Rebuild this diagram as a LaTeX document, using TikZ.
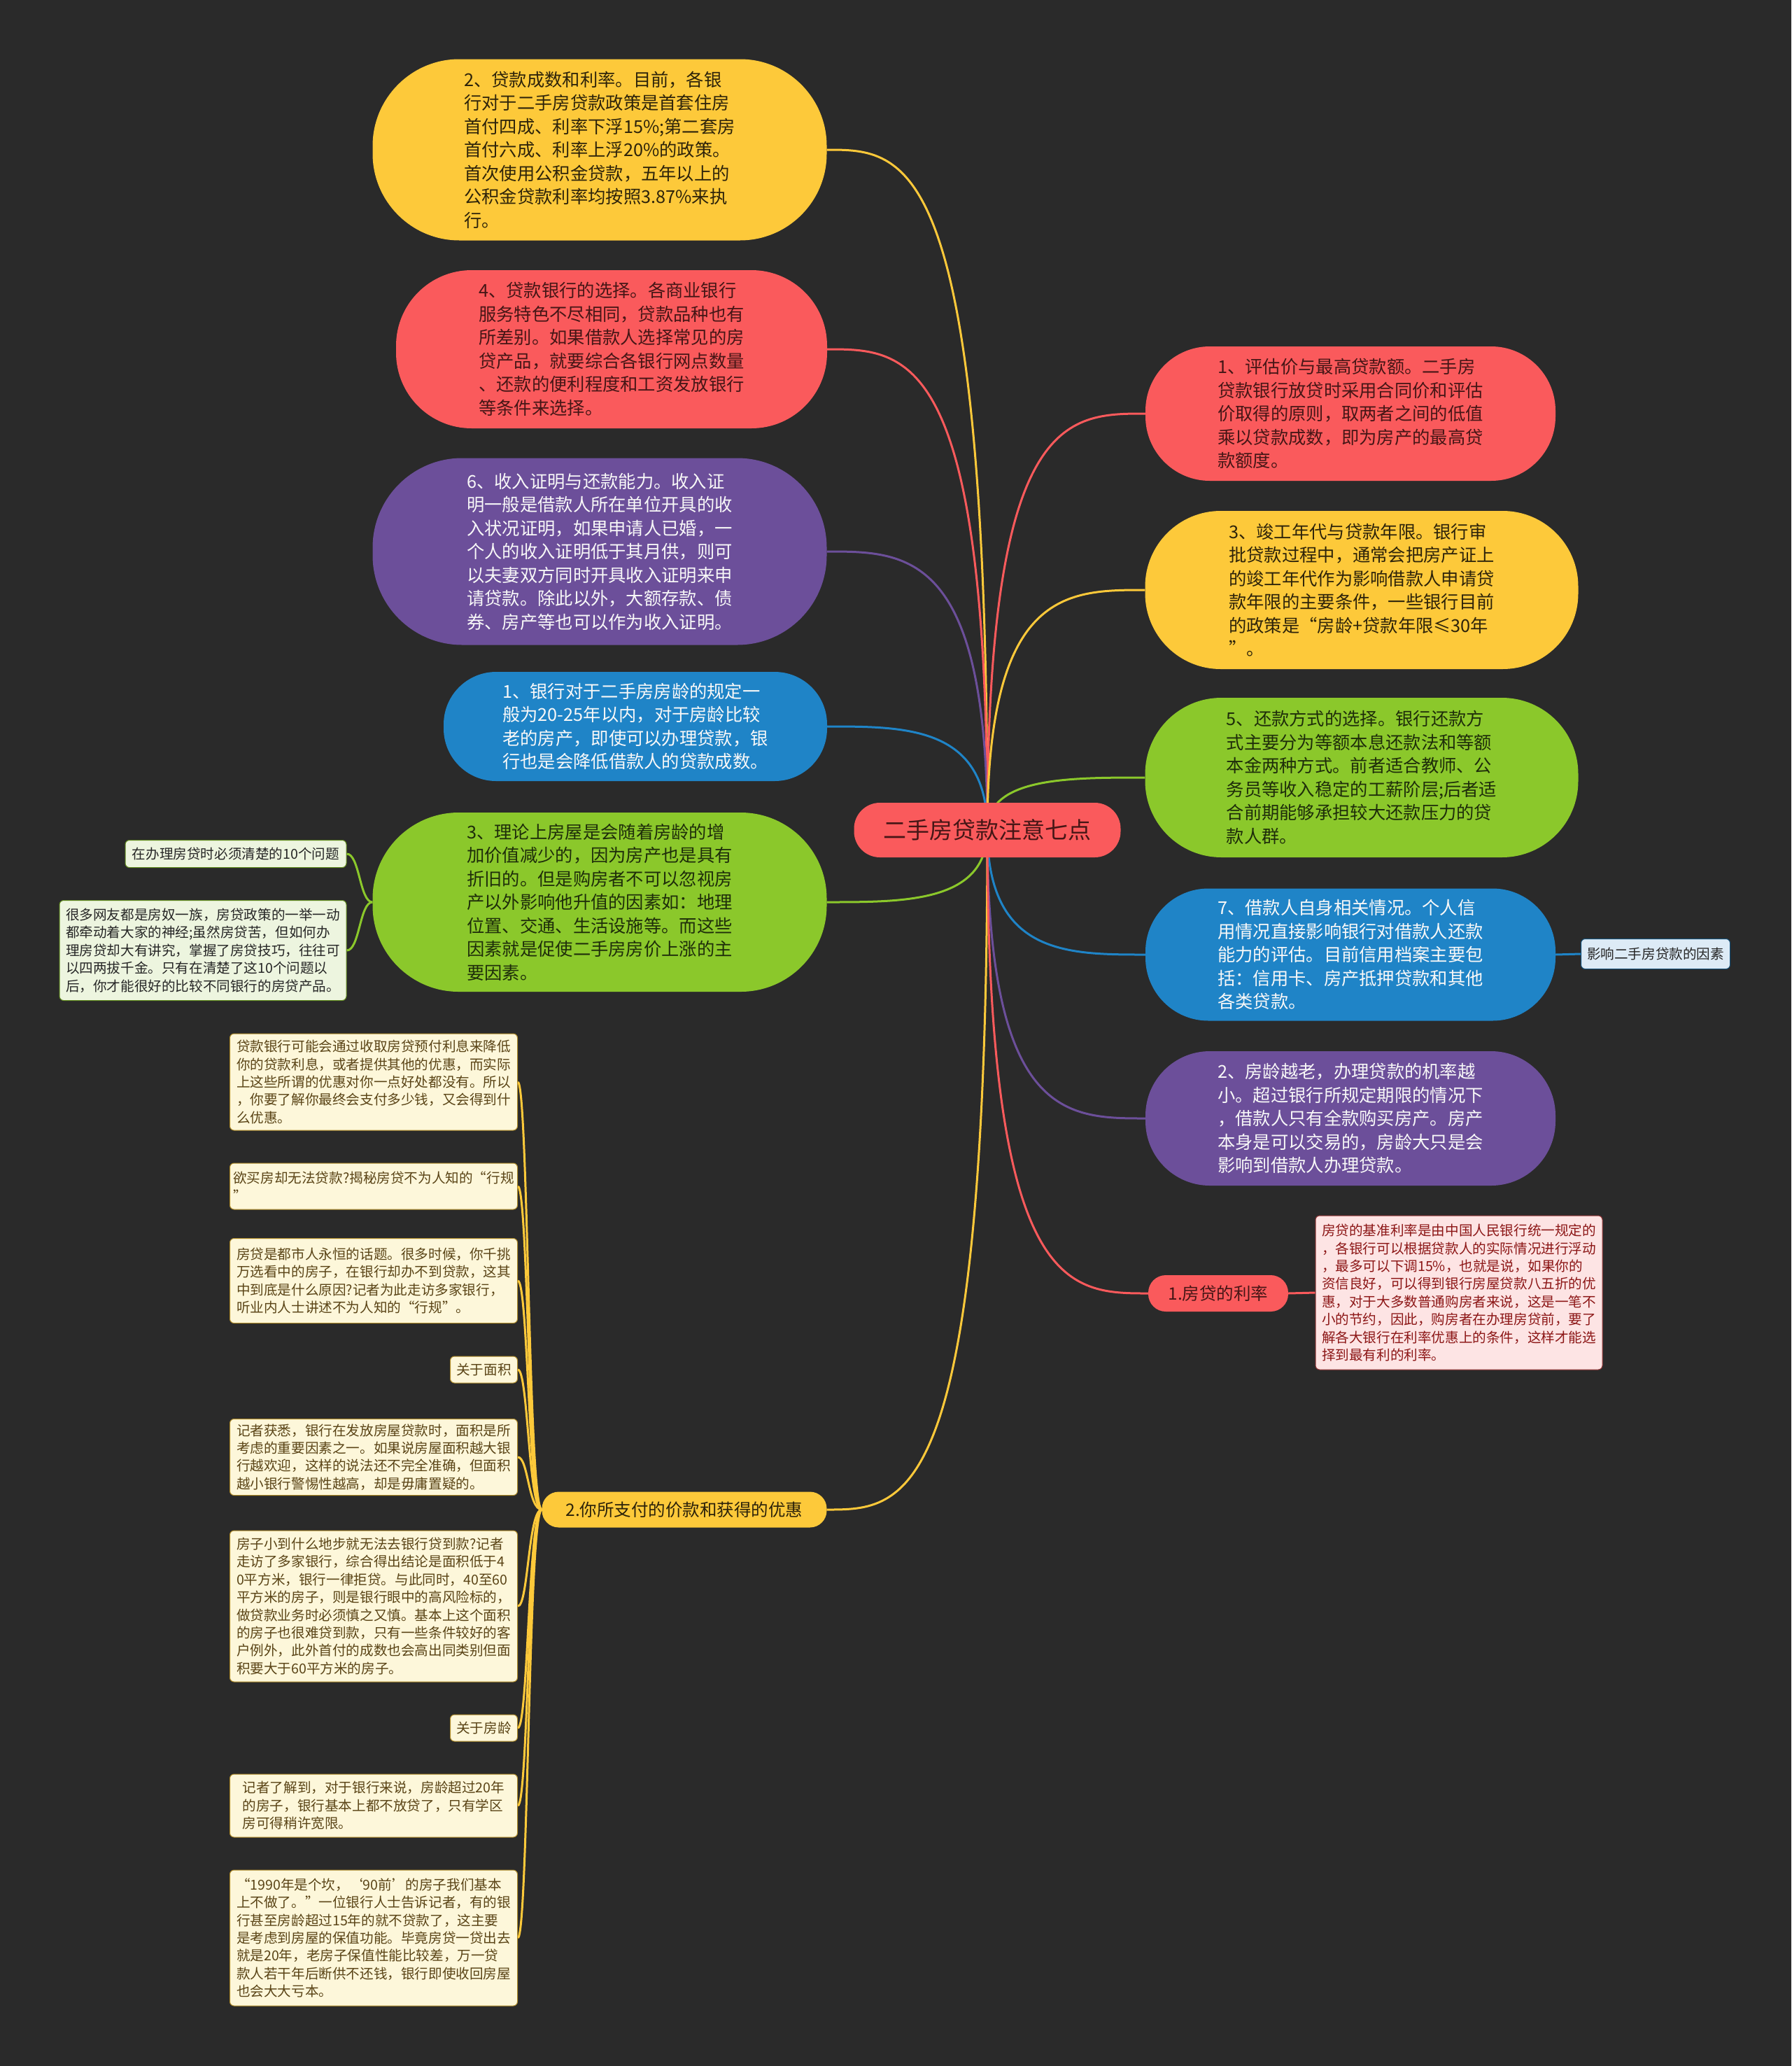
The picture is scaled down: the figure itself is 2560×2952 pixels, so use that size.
\documentclass[tikz,border=0pt]{standalone}
\usepackage{fontspec}
\newfontfamily\cjk{Noto Sans CJK SC}
\definecolor{bgc}{RGB}{42,42,42}
\definecolor{cred}{RGB}{250,90,92}
\definecolor{cyel}{RGB}{253,201,58}
\definecolor{cpur}{RGB}{108,79,154}
\definecolor{cblu}{RGB}{31,132,199}
\definecolor{cgrn}{RGB}{139,200,43}
\definecolor{tred}{RGB}{70,22,22}
\definecolor{tyel}{RGB}{45,35,10}
\definecolor{tgrn}{RGB}{30,45,10}
\definecolor{twht}{RGB}{248,248,248}
\definecolor{fgn}{RGB}{237,245,223}
\definecolor{fyn}{RGB}{253,247,218}
\definecolor{fpk}{RGB}{253,228,228}
\definecolor{fbl}{RGB}{221,235,246}
\definecolor{tyn}{RGB}{90,68,22}
\definecolor{tpk}{RGB}{140,22,22}
\pgfdeclarelayer{back}
\pgfdeclarelayer{lines}
\pgfsetlayers{back,lines,main}
\tikzset{
  pill/.style n args={3}{minimum width=#1pt, minimum height=#2pt, rounded corners=#3pt, inner sep=0pt, align=left},
  bigtxt/.style={font=\cjk\fontsize{25.3}{33.5}\selectfont},
  midtxt/.style={font=\cjk\fontsize{24.5}{30}\selectfont},
  smalltxt/.style={font=\cjk\fontsize{19.6}{25.4}\selectfont},
  redn/.style={fill=cred, text=tred, bigtxt},
  yeln/.style={fill=cyel, text=tyel, bigtxt},
  purn/.style={fill=cpur, text=twht, bigtxt},
  blun/.style={fill=cblu, text=twht, bigtxt},
  grnn/.style={fill=cgrn, text=tgrn, bigtxt},
  gnote/.style={fill=fgn, draw=cgrn!70!black, line width=1pt, text=black!85, smalltxt, rounded corners=6pt, inner sep=0pt, align=left},
  ynote/.style={fill=fyn, draw=cyel!70!black, line width=1pt, text=tyn, smalltxt, rounded corners=6pt, inner sep=0pt, align=left},
  pnote/.style={fill=fpk, draw=cred!60!black, line width=1pt, text=tpk, smalltxt, rounded corners=6pt, inner sep=0pt, align=left},
  bnote/.style={fill=fbl, draw=cblu!60!black, line width=1pt, text=black!85, smalltxt, rounded corners=6pt, inner sep=0pt, align=left},
  conn/.style={line width=3pt},
}
\begin{document}
\begin{tikzpicture}[x=1pt,y=-1pt]
\begin{pgfonlayer}{back}
\fill[bgc] (0,0) rectangle (2560,2952);
\end{pgfonlayer}
\useasboundingbox (0,0) rectangle (2560,2952);

% central
\node[pill={381}{78}{37}, fill=cred, text=tred, font=\cjk\fontsize{33}{38}\selectfont] (ctr) at (1411,1186) {二手房贷款注意七点};

% left big nodes
\node[pill={649}{259}{124}, yeln] (l1) at (857,214) {2、贷款成数和利率。目前，各银\\行对于二手房贷款政策是首套住房\\首付四成、利率下浮15\%;第二套房\\首付六成、利率上浮20\%的政策。\\首次使用公积金贷款，五年以上的\\公积金贷款利率均按照3.87\%来执\\行。};
\node[pill={616}{226}{108}, redn] (l2) at (874,499) {4、贷款银行的选择。各商业银行\\服务特色不尽相同，贷款品种也有\\所差别。如果借款人选择常见的房\\贷产品，就要综合各银行网点数量\\、还款的便利程度和工资发放银行\\等条件来选择。};
\node[pill={649}{267}{128}, purn] (l3) at (857,788) {6、收入证明与还款能力。收入证\\明一般是借款人所在单位开具的收\\入状况证明，如果申请人已婚，一\\个人的收入证明低于其月供，则可\\以夫妻双方同时开具收入证明来申\\请贷款。除此以外，大额存款、债\\券、房产等也可以作为收入证明。};
\node[pill={548}{156}{75}, blun] (l4) at (908,1038) {1、银行对于二手房房龄的规定一\\般为20-25年以内，对于房龄比较\\老的房产，即使可以办理贷款，银\\行也是会降低借款人的贷款成数。};
\node[pill={649}{256}{123}, grnn] (l5) at (857,1289) {3、理论上房屋是会随着房龄的增\\加价值减少的，因为房产也是具有\\折旧的。但是购房者不可以忽视房\\产以外影响他升值的因素如：地理\\位置、交通、生活设施等。而这些\\因素就是促使二手房房价上涨的主\\要因素。};

% right big nodes
\node[pill={586}{192}{92}, redn] (r1) at (1930,591) {1、评估价与最高贷款额。二手房\\贷款银行放贷时采用合同价和评估\\价取得的原则，取两者之间的低值\\乘以贷款成数，即为房产的最高贷\\款额度。};
\node[pill={619}{226}{108}, yeln] (r2) at (1946,843) {3、竣工年代与贷款年限。银行审\\批贷款过程中，通常会把房产证上\\的竣工年代作为影响借款人申请贷\\款年限的主要条件，一些银行目前\\的政策是“房龄+贷款年限≤30年\\”。};
\node[pill={619}{228}{109}, grnn] (r3) at (1946,1111) {5、还款方式的选择。银行还款方\\式主要分为等额本息还款法和等额\\本金两种方式。前者适合教师、公\\务员等收入稳定的工薪阶层;后者适\\合前期能够承担较大还款压力的贷\\款人群。};
\node[pill={586}{189}{90}, blun] (r4) at (1930,1364) {7、借款人自身相关情况。个人信\\用情况直接影响银行对借款人还款\\能力的评估。目前信用档案主要包\\括：信用卡、房产抵押贷款和其他\\各类贷款。};
\node[pill={586}{192}{92}, purn] (r5) at (1930,1598) {2、房龄越老，办理贷款的机率越\\小。超过银行所规定期限的情况下\\，借款人只有全款购买房产。房产\\本身是可以交易的，房龄大只是会\\影响到借款人办理贷款。};
\node[pill={200}{52}{25}, fill=cred, text=tred, midtxt] (r6) at (1741,1848) {1.房贷的利率};
\node[pill={407}{51}{24}, fill=cyel, text=tyel, midtxt] (y2) at (978,2157) {2.你所支付的价款和获得的优惠};

% notes
\node[bnote, minimum width=213pt, minimum height=43pt] (tag) at (2366,1363) {影响二手房贷款的因素};
\node[pnote, minimum width=410pt, minimum height=220pt] (pk) at (2085,1847) {房贷的基准利率是由中国人民银行统一规定的\\，各银行可以根据贷款人的实际情况进行浮动\\，最多可以下调15\%，也就是说，如果你的\\资信良好，可以得到银行房屋贷款八五折的优\\惠，对于大多数普通购房者来说，这是一笔不\\小的节约，因此，购房者在办理房贷前，要了\\解各大银行在利率优惠上的条件，这样才能选\\择到最有利的利率。};
\node[gnote, minimum width=316pt, minimum height=39pt] (na) at (337,1220) {在办理房贷时必须清楚的10个问题};
\node[gnote, minimum width=410pt, minimum height=143pt] (nb) at (290,1358) {很多网友都是房奴一族，房贷政策的一举一动\\都牵动着大家的神经;虽然房贷苦，但如何办\\理房贷却大有讲究，掌握了房贷技巧，往往可\\以四两拔千金。只有在清楚了这10个问题以\\后，你才能很好的比较不同银行的房贷产品。};

\node[ynote, anchor=east, minimum width=411pt, minimum height=138pt] (n1) at (740,1546) {贷款银行可能会通过收取房贷预付利息来降低\\你的贷款利息，或者提供其他的优惠，而实际\\上这些所谓的优惠对你一点好处都没有。所以\\，你要了解你最终会支付多少钱，又会得到什\\么优惠。};
\node[ynote, anchor=east, minimum width=411pt, minimum height=66pt] (n2) at (740,1695) {欲买房却无法贷款?揭秘房贷不为人知的“行规\\”};
\node[ynote, anchor=east, minimum width=411pt, minimum height=121pt] (n3) at (740,1830) {房贷是都市人永恒的话题。很多时候，你千挑\\万选看中的房子，在银行却办不到贷款，这其\\中到底是什么原因?记者为此走访多家银行，\\听业内人士讲述不为人知的“行规”。};
\node[ynote, anchor=east, minimum width=96pt, minimum height=38pt] (n4) at (740,1957) {关于面积};
\node[ynote, anchor=east, minimum width=411pt, minimum height=109pt] (n5) at (740,2082) {记者获悉，银行在发放房屋贷款时，面积是所\\考虑的重要因素之一。如果说房屋面积越大银\\行越欢迎，这样的说法还不完全准确，但面积\\越小银行警惕性越高，却是毋庸置疑的。};
\node[ynote, anchor=east, minimum width=411pt, minimum height=216pt] (n6) at (740,2295) {房子小到什么地步就无法去银行贷到款?记者\\走访了多家银行，综合得出结论是面积低于4\\0平方米，银行一律拒贷。与此同时，40至60\\平方米的房子，则是银行眼中的高风险标的，\\做贷款业务时必须慎之又慎。基本上这个面积\\的房子也很难贷到款，只有一些条件较好的客\\户例外，此外首付的成数也会高出同类别但面\\积要大于60平方米的房子。};
\node[ynote, anchor=east, minimum width=96pt, minimum height=38pt] (n7) at (740,2469) {关于房龄};
\node[ynote, anchor=east, minimum width=411pt, minimum height=90pt] (n8) at (740,2580) {记者了解到，对于银行来说，房龄超过20年\\的房子，银行基本上都不放贷了，只有学区\\房可得稍许宽限。};
\node[ynote, anchor=east, minimum width=411pt, minimum height=194pt] (n9) at (740,2769) {“1990年是个坎，‘90前’的房子我们基本\\上不做了。”一位银行人士告诉记者，有的银\\行甚至房龄超过15年的就不贷款了，这主要\\是考虑到房屋的保值功能。毕竟房贷一贷出去\\就是20年，老房子保值性能比较差，万一贷\\款人若干年后断供不还钱，银行即使收回房屋\\也会大大亏本。};

\begin{pgfonlayer}{lines}
\draw[conn, cyel] (ctr.center) .. controls (1411,214) and (1296,214) .. (l1.east);
\draw[conn, cred] (ctr.center) .. controls (1411,499) and (1296,499) .. (l2.east);
\draw[conn, cpur] (ctr.center) .. controls (1411,788) and (1296,788) .. (l3.east);
\draw[conn, cblu] (ctr.center) .. controls (1411,1038) and (1296,1038) .. (l4.east);
\draw[conn, cgrn] (ctr.center) .. controls (1411,1289) and (1296,1289) .. (l5.east);
\draw[conn, cyel] (ctr.center) .. controls (1411,2157) and (1296,2157) .. (y2.east);
\draw[conn, cred] (ctr.center) .. controls (1411,591) and (1524,591) .. (r1.west);
\draw[conn, cyel] (ctr.center) .. controls (1411,843) and (1524,843) .. (r2.west);
\draw[conn, cgrn] (ctr.center) .. controls (1411,1111) and (1524,1111) .. (r3.west);
\draw[conn, cblu] (ctr.center) .. controls (1411,1364) and (1524,1364) .. (r4.west);
\draw[conn, cpur] (ctr.center) .. controls (1411,1598) and (1524,1598) .. (r5.west);
\draw[conn, cred] (ctr.center) .. controls (1411,1848) and (1526,1848) .. (r6.west);
\draw[conn, cblu] (r4.east) -- (tag.west);
\draw[conn, cred] (r6.east) -- (pk.west);
\draw[conn, cgrn] (l5.west) .. controls (514,1289) and (514,1220) .. (na.east);
\draw[conn, cgrn] (l5.west) .. controls (514,1289) and (514,1358) .. (nb.east);
\foreach \n/\yy in {n1/1546,n2/1695,n3/1830,n4/1957,n5/2082,n6/2295,n7/2469,n8/2580,n9/2769}{
  \draw[conn, cyel] (y2.west) .. controls (755,2157) and (755,\yy) .. (\n.east);
}
\end{pgfonlayer}
\end{tikzpicture}
\end{document}
